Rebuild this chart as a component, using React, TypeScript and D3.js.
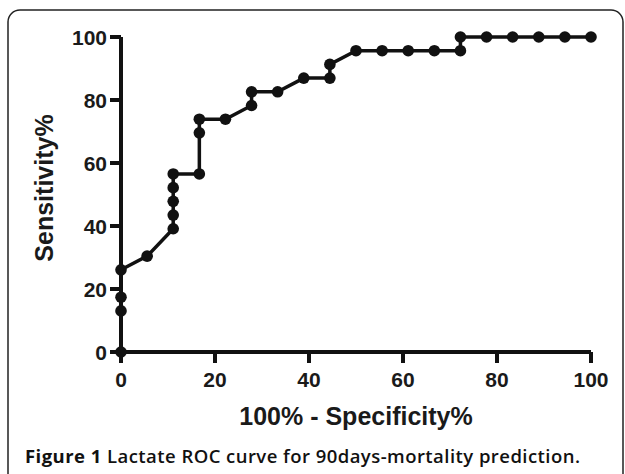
import React from "react";
import * as d3 from "d3";

// 100% - Specificity% (x) and Sensitivity% (y) for each ROC point
const specComplement: number[] = [
  0, 0, 0, 0, 5.56, 11.11, 11.11, 11.11, 11.11, 11.11, 16.67, 16.67, 16.67,
  22.22, 27.78, 27.78, 33.33, 38.89, 44.44, 44.44, 50, 55.56, 61.11, 66.67,
  72.22, 72.22, 77.78, 83.33, 88.89, 94.44, 100,
];
const sensitivity: number[] = [
  0, 13.04, 17.39, 26.09, 30.43, 39.13, 43.48, 47.83, 52.17, 56.52, 56.52,
  69.57, 73.91, 73.91, 78.26, 82.61, 82.61, 86.96, 86.96, 91.3, 95.65, 95.65,
  95.65, 95.65, 95.65, 100, 100, 100, 100, 100, 100,
];
const xTicks: number[] = [0, 20, 40, 60, 80, 100];
const yTicks: number[] = [0, 20, 40, 60, 80, 100];
const xTitle = "100% - Specificity%";
const yTitle = "Sensitivity%";
const captionBold = "Figure 1";
const captionRest = "Lactate ROC curve for 90days-mortality prediction.";

export default function App() {
  const W = 625;
  const H = 474;
  const x = d3.scaleLinear().domain([0, 100]).range([121, 591]);
  const y = d3.scaleLinear().domain([0, 100]).range([352, 37]);
  const pts = specComplement.map((v, i) => [v, sensitivity[i]] as [number, number]);
  const line = d3
    .line<[number, number]>()
    .x((d) => x(d[0]))
    .y((d) => y(d[1]));
  const axisFont = "'Liberation Sans', Arial, sans-serif";
  const ink = "#111";
  return (
    <svg
      width={W}
      height={H}
      style={{ position: "absolute", left: 0, top: 0, background: "#fff" }}
    >
      <rect x={8} y={10} width={615} height={500} rx={12} ry={12} fill="#fff" stroke="#222" strokeWidth={1.5} />
      {/* axes */}
      <line x1={x(0)} x2={x(100)} y1={y(0)} y2={y(0)} stroke={ink} strokeWidth={4} />
      <line x1={x(0)} x2={x(0)} y1={y(0)} y2={y(100)} stroke={ink} strokeWidth={4} />
      {xTicks.map((t) => (
        <g key={"xt" + t}>
          <line x1={x(t)} x2={x(t)} y1={y(0)} y2={y(0) + 11} stroke={ink} strokeWidth={4} />
          <text
            x={x(t)}
            y={387}
            textAnchor="middle"
            fontFamily={axisFont}
            fontWeight="bold"
            fontSize={21}
            fill="#1a1a1a"
          >
            {t}
          </text>
        </g>
      ))}
      {yTicks.map((t) => (
        <g key={"yt" + t}>
          <line x1={x(0) - 11} x2={x(0)} y1={y(t)} y2={y(t)} stroke={ink} strokeWidth={4} />
          <text
            x={107}
            y={y(t)}
            dy="0.36em"
            textAnchor="end"
            fontFamily={axisFont}
            fontWeight="bold"
            fontSize={21}
            fill="#1a1a1a"
          >
            {t}
          </text>
        </g>
      ))}
      <text
        x={356}
        y={425}
        textAnchor="middle"
        fontFamily={axisFont}
        fontWeight="bold"
        fontSize={25}
        fill="#1a1a1a"
      >
        {xTitle}
      </text>
      <text
        transform="translate(53,188) rotate(-90)"
        textAnchor="middle"
        fontFamily={axisFont}
        fontWeight="bold"
        fontSize={25}
        fill="#1a1a1a"
      >
        {yTitle}
      </text>
      {/* ROC curve */}
      <path d={line(pts) || ""} fill="none" stroke={ink} strokeWidth={3.5} />
      {pts.map((p, i) => (
        <circle key={i} cx={x(p[0])} cy={y(p[1])} r={5.8} fill={ink} />
      ))}
      <text
        x={25}
        y={462.5}
        fontFamily="'Open Sans', sans-serif"
        fontSize={18.5}
        letterSpacing={0.45}
        fill="#111"
      >
        <tspan fontWeight={700}>{captionBold}</tspan>
        <tspan fontWeight={600}>{" " + captionRest}</tspan>
      </text>
    </svg>
  );
}
